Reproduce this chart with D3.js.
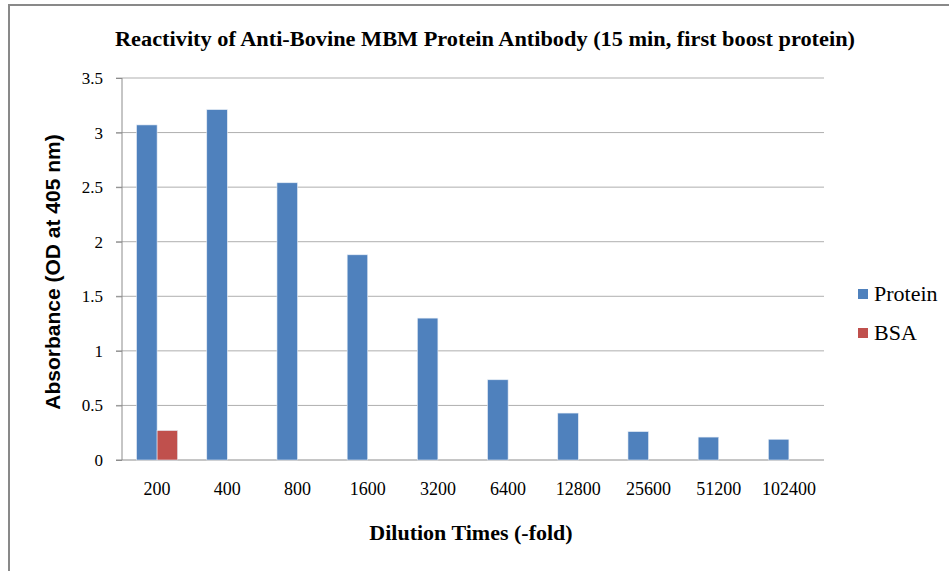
<!DOCTYPE html>
<html>
<head>
<meta charset="utf-8">
<script src="https://cdn.jsdelivr.net/npm/d3@7"></script>
<style>
  html, body { margin: 0; padding: 0; background: #fff; }
  svg { display: block; }
</style>
</head>
<body>
<div id="chart"></div>
<script>
const width = 949;
const height = 571;

const dilutions = ["200", "400", "800", "1600", "3200", "6400", "12800", "25600", "51200", "102400"];
const protein = [3.07, 3.21, 2.54, 1.88, 1.30, 0.735, 0.43, 0.26, 0.21, 0.19];
const bsa = [0.27, null, null, null, null, null, null, null, null, null];
const seriesNames = ["Protein", "BSA"];
const seriesColors = ["#4F81BD", "#C0504D"];
const yTicks = [0, 0.5, 1, 1.5, 2, 2.5, 3, 3.5];

const margin = { top: 78, left: 122, right: 125, bottom: 111 };
const plotW = width - margin.left - margin.right;
const plotH = height - margin.top - margin.bottom;
const serif = "'Liberation Serif', 'Times New Roman', serif";

const svg = d3
  .select("#chart")
  .append("svg")
  .attr("width", width)
  .attr("height", height);

// outer chart frame (right and bottom edges fall outside the picture)
svg
  .append("rect")
  .attr("x", 9)
  .attr("y", 5)
  .attr("width", width + 20)
  .attr("height", height + 20)
  .attr("fill", "#fff")
  .attr("stroke", "#898989")
  .attr("stroke-width", 2);

const g = svg
  .append("g")
  .attr("transform", `translate(${margin.left},${margin.top})`);

const x = d3.scaleBand().domain(dilutions).range([0, plotW]);
const x1 = d3
  .scaleBand()
  .domain(seriesNames)
  .range([0, x.bandwidth()])
  .paddingInner(0)
  .paddingOuter(0.71);
const y = d3.scaleLinear().domain([0, 3.5]).range([plotH, 0]);

// gridlines
g.append("g")
  .selectAll("line")
  .data(yTicks.filter((t) => t > 0))
  .enter()
  .append("line")
  .attr("x1", -6)
  .attr("x2", plotW)
  .attr("y1", (d) => y(d))
  .attr("y2", (d) => y(d))
  .attr("stroke", "#AFAFAF")
  .attr("stroke-width", 1);

// y axis
const yAxis = g
  .append("g")
  .call(
    d3
      .axisLeft(y)
      .tickValues(yTicks)
      .tickSize(6)
      .tickPadding(13)
      .tickFormat((d) => d3.format("")(d))
  );
yAxis.select(".domain").attr("stroke", "#8C8C8C").attr("d", `M0,0V${plotH}`);
yAxis.selectAll(".tick line").attr("stroke", "#8C8C8C");
yAxis
  .selectAll("text")
  .attr("font-family", serif)
  .attr("font-size", 17)
  .attr("fill", "#000");

// x axis
const xAxis = g
  .append("g")
  .attr("transform", `translate(0,${plotH})`)
  .call(d3.axisBottom(x).tickSize(0).tickPadding(22));
xAxis.select(".domain").attr("stroke", "#8C8C8C").attr("d", `M-6,0H${plotW}`);
xAxis
  .selectAll("text")
  .attr("font-family", serif)
  .attr("font-size", 18)
  .attr("fill", "#000");

// bars
const rows = dilutions.map((d, i) => ({
  key: d,
  values: [
    { name: "Protein", value: protein[i] },
    { name: "BSA", value: bsa[i] },
  ],
}));

g.append("g")
  .selectAll("g")
  .data(rows)
  .enter()
  .append("g")
  .attr("transform", (d) => `translate(${x(d.key)},0)`)
  .selectAll("rect")
  .data((d) => d.values.filter((v) => v.value != null))
  .enter()
  .append("rect")
  .attr("x", (d) => x1(d.name))
  .attr("width", x1.bandwidth())
  .attr("y", (d) => y(d.value))
  .attr("height", (d) => plotH - y(d.value))
  .attr("fill", (d) => seriesColors[seriesNames.indexOf(d.name)])
  .attr("stroke", "#E4ECF6")
  .attr("stroke-width", 0.6);

// title
svg
  .append("text")
  .attr("x", 485)
  .attr("y", 46)
  .attr("text-anchor", "middle")
  .attr("font-family", serif)
  .attr("font-weight", "bold")
  .attr("font-size", 20)
  .attr("textLength", 740)
  .attr("lengthAdjust", "spacingAndGlyphs")
  .text("Reactivity of Anti-Bovine MBM Protein Antibody (15 min, first boost protein)");

// axis titles
svg
  .append("text")
  .attr("transform", "translate(60,272) rotate(-90)")
  .attr("text-anchor", "middle")
  .attr("font-family", "'Liberation Sans', Arial, sans-serif")
  .attr("font-weight", "bold")
  .attr("font-size", 21)
  .text("Absorbance (OD at 405 nm)");

svg
  .append("text")
  .attr("x", 471)
  .attr("y", 540)
  .attr("text-anchor", "middle")
  .attr("font-family", serif)
  .attr("font-weight", "bold")
  .attr("font-size", 22)
  .text("Dilution Times (-fold)");

// legend
const legend = svg
  .append("g")
  .selectAll("g")
  .data(seriesNames)
  .enter()
  .append("g")
  .attr("transform", (d, i) => `translate(858,${289 + i * 39})`);

legend
  .append("rect")
  .attr("width", 10)
  .attr("height", 10)
  .attr("fill", (d, i) => seriesColors[i]);

legend
  .append("text")
  .attr("x", 16)
  .attr("y", 12)
  .attr("font-family", serif)
  .attr("font-size", 22)
  .text((d) => d);
</script>
</body>
</html>
